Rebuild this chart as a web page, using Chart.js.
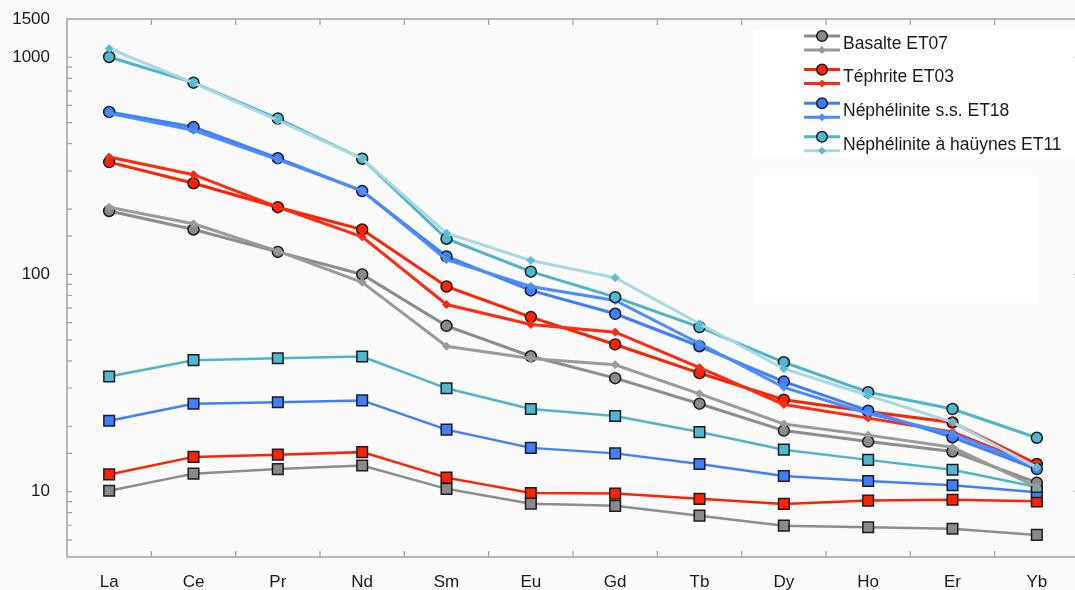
<!DOCTYPE html>
<html lang="fr">
<head>
<meta charset="utf-8">
<title>Spectres de terres rares</title>
<script src="https://cdn.jsdelivr.net/npm/chart.js@4.4.1/dist/chart.umd.min.js"></script>
<style>
    html, body {
        margin: 0;
        padding: 0;
        background: #fafafa;
        overflow: hidden;
    }

    #wrap {
        width: 1088px;
        height: 590px;
    }
</style>
</head>
<body>
<div id="wrap">
    <canvas id="reeChart" width="1088" height="590"></canvas>
</div>
<script>
const elements = ['La', 'Ce', 'Pr', 'Nd', 'Sm', 'Eu', 'Gd', 'Tb', 'Dy', 'Ho', 'Er', 'Yb'];
const yTickLabels = [10, 100, 1000, 1500];

// Basalte ET07
const basalteCircle = [196, 161, 127, 100, 58, 42, 33.3, 25.4, 19.1, 17.0, 15.3, 11.0];
const basalteDiamond = [204, 171, 128, 92, 46.7, 41, 38.4, 28.2, 20.5, 18.2, 16.0, 10.5];
const basalteSquare = [10.1, 12.1, 12.7, 13.2, 10.3, 8.8, 8.6, 7.75, 6.97, 6.85, 6.75, 6.32];

// Téphrite ET03
const tephriteCircle = [329, 263, 204, 161, 88, 63.6, 47.6, 35.1, 26.5, 23.4, 20.8, 13.4];
const tephriteDiamond = [347, 288, 204, 149, 72.7, 58.8, 54.2, 37.2, 25.2, 21.8, 18.8, 13.2];
const tephriteSquare = [12.0, 14.45, 14.8, 15.2, 11.6, 9.86, 9.79, 9.26, 8.78, 9.09, 9.18, 9.02];

// Néphélinite s.s. ET18
const nephCircle = [560, 477, 343, 242, 121, 84.4, 65.9, 46.7, 32.1, 23.6, 17.8, 12.7];
const nephDiamond = [552, 461, 338, 243, 117, 88, 75.9, 48.1, 30.2, 22.9, 18.5, 13.0];
const nephSquare = [21.2, 25.4, 25.8, 26.3, 19.3, 15.9, 15.0, 13.4, 11.8, 11.2, 10.7, 9.93];

// Néphélinite à haüynes ET11
const hauyneCircle = [1003, 764, 522, 341, 146, 103, 78.6, 57.2, 39.4, 28.7, 24.0, 17.7];
const hauyneDiamond = [1097, 763, 512, 341, 155, 116, 96.6, 59.3, 36.8, 27.7, 20.9, 12.9];
const hauyneSquare = [33.9, 40.3, 41.1, 41.9, 29.9, 24.0, 22.3, 18.8, 15.6, 14.0, 12.6, 10.5];

const legendNames = ['Basalte ET07', 'Téphrite ET03', 'Néphélinite s.s. ET18', 'Néphélinite à haüynes ET11'];

const palette = [
    { line: '#8c8c8c', fill: '#8a8a8a', light: '#9a9a9a', mark: '#999999' },
    { line: '#ff2200', fill: '#ff2200', light: '#ff2a10', mark: '#ff2a10' },
    { line: '#3f7fff', fill: '#3f7fff', light: '#4a8cff', mark: '#4a8cff' },
    { line: '#4db5cb', fill: '#4db8cf', light: '#a8d9e3', mark: '#5bbdd5' }
];

const AXIS_COLOR = '#a0a0a0';
const TEXT_COLOR = '#1a1a1a';
const MARKER_EDGE = '#1c1c1c';

function circleSet(label, data, color) {
    return {
        label: label,
        data: data,
        borderColor: color.line,
        borderWidth: 3,
        pointStyle: 'circle',
        pointRadius: 5.5,
        pointBackgroundColor: color.fill,
        pointBorderColor: MARKER_EDGE,
        pointBorderWidth: 1.5
    };
}

function diamondSet(label, data, color) {
    return {
        label: label,
        data: data,
        borderColor: color.light,
        borderWidth: 3,
        pointStyle: 'rectRot',
        pointRadius: 4,
        pointBackgroundColor: color.mark,
        pointBorderColor: color.mark,
        pointBorderWidth: 1
    };
}

function squareSet(label, data, color) {
    return {
        label: label,
        data: data,
        borderColor: color.line,
        borderWidth: 2.5,
        pointStyle: 'rect',
        pointRadius: 7.5,
        pointBackgroundColor: color.fill,
        pointBorderColor: MARKER_EDGE,
        pointBorderWidth: 1.5
    };
}

function buildDatasets() {
    const list = [
        squareSet(legendNames[0] + ' (carrés)', basalteSquare, palette[0]),
        squareSet(legendNames[1] + ' (carrés)', tephriteSquare, palette[1]),
        squareSet(legendNames[2] + ' (carrés)', nephSquare, palette[2]),
        squareSet(legendNames[3] + ' (carrés)', hauyneSquare, palette[3]),
        circleSet(legendNames[0], basalteCircle, palette[0]),
        diamondSet(legendNames[0] + ' (losanges)', basalteDiamond, palette[0]),
        circleSet(legendNames[1], tephriteCircle, palette[1]),
        diamondSet(legendNames[1] + ' (losanges)', tephriteDiamond, palette[1]),
        circleSet(legendNames[2], nephCircle, palette[2]),
        diamondSet(legendNames[2] + ' (losanges)', nephDiamond, palette[2]),
        circleSet(legendNames[3], hauyneCircle, palette[3]),
        diamondSet(legendNames[3] + ' (losanges)', hauyneDiamond, palette[3])
    ];

    // les derniers sont dessinés par-dessus
    list.forEach(function (ds, i) {
        ds.order = list.length - i;
        ds.tension = 0;
    });

    return list;
}

// cadre, petites graduations vers l'intérieur, cadres blancs
const framePlugin = {
    id: 'frame',
    beforeDatasetsDraw(chart) {
        const ctx = chart.ctx;
        const area = chart.chartArea;
        const x = chart.scales.x;
        const y = chart.scales.y;

        ctx.save();

        ctx.fillStyle = '#ffffff';
        ctx.fillRect(753, 29, 340, 128);
        ctx.fillRect(754, 175, 284, 128);

        ctx.strokeStyle = AXIS_COLOR;
        ctx.lineWidth = 1.5;
        ctx.strokeRect(area.left, area.top, area.right - area.left, area.bottom - area.top);

        ctx.lineWidth = 1.2;
        ctx.beginPath();

        y.ticks.forEach(function (tick) {
            const py = y.getPixelForValue(tick.value);

            if (py <= area.top + 1 || py >= area.bottom - 1) {
                return;
            }

            ctx.moveTo(area.left, py);
            ctx.lineTo(area.left + 5, py);

            if (yTickLabels.includes(Math.round(tick.value))) {
                ctx.moveTo(area.right, py);
                ctx.lineTo(area.right - 5, py);
            }
        });

        for (let i = 0; i < elements.length - 1; i++) {
            const px = (x.getPixelForValue(i) + x.getPixelForValue(i + 1)) / 2;
            ctx.moveTo(px, area.bottom);
            ctx.lineTo(px, area.bottom - 6);
            ctx.moveTo(px, area.top);
            ctx.lineTo(px, area.top + 6);
        }

        ctx.stroke();
        ctx.restore();
    }
};

function drawDiamond(ctx, cx, cy, r) {
    ctx.beginPath();
    ctx.moveTo(cx, cy - r);
    ctx.lineTo(cx + r, cy);
    ctx.lineTo(cx, cy + r);
    ctx.lineTo(cx - r, cy);
    ctx.closePath();
    ctx.fill();
}

// légende à double symbole (cercle + losange)
const legendPlugin = {
    id: 'doubleLegend',
    afterDraw(chart) {
        const ctx = chart.ctx;

        ctx.save();
        ctx.font = '17.5px "Liberation Sans", Arial, Helvetica, sans-serif';
        ctx.textBaseline = 'middle';
        ctx.textAlign = 'left';

        legendNames.forEach(function (name, i) {
            const color = palette[i];
            const top = 36 + i * 33.6;

            ctx.lineWidth = 3;
            ctx.strokeStyle = color.line;
            ctx.beginPath();
            ctx.moveTo(804, top);
            ctx.lineTo(840, top);
            ctx.stroke();

            ctx.strokeStyle = color.light;
            ctx.beginPath();
            ctx.moveTo(804, top + 14);
            ctx.lineTo(840, top + 14);
            ctx.stroke();

            ctx.fillStyle = color.fill;
            ctx.strokeStyle = MARKER_EDGE;
            ctx.lineWidth = 1.5;
            ctx.beginPath();
            ctx.arc(822, top, 5.3, 0, Math.PI * 2);
            ctx.fill();
            ctx.stroke();

            ctx.fillStyle = color.mark;
            drawDiamond(ctx, 822, top + 14, 4);

            ctx.fillStyle = TEXT_COLOR;
            ctx.fillText(name, 843, top + 8);
        });

        ctx.restore();
    }
};

function initReeChart() {
    const canvas = document.getElementById('reeChart');

    if (!canvas) {
        return;
    }

    Chart.defaults.font.family = '"Liberation Sans", Arial, Helvetica, sans-serif';

    new Chart(canvas.getContext('2d'), {
        type: 'line',
        data: {
            labels: elements,
            datasets: buildDatasets()
        },
        options: {
            responsive: false,
            animation: false,
            layout: {
                padding: { top: 19, right: 5, left: 0, bottom: 0 }
            },
            plugins: {
                legend: { display: false },
                tooltip: { enabled: false }
            },
            scales: {
                x: {
                    type: 'category',
                    offset: true,
                    grid: { display: false, drawTicks: false },
                    border: { display: false },
                    ticks: {
                        padding: 15,
                        color: TEXT_COLOR,
                        font: { size: 17 }
                    },
                    afterFit: function (scale) {
                        scale.height = 33;
                        scale.paddingLeft = 0;
                        scale.paddingRight = 0;
                    }
                },
                y: {
                    type: 'logarithmic',
                    min: 5,
                    max: 1500,
                    grid: { display: false, drawTicks: false },
                    border: { display: false },
                    ticks: {
                        autoSkip: false,
                        padding: 17,
                        color: TEXT_COLOR,
                        font: { size: 17 },
                        callback: function (value) {
                            const v = Math.round(value);
                            return yTickLabels.includes(v) ? String(v) : '';
                        }
                    },
                    afterFit: function (scale) {
                        scale.width = 67;
                        scale.paddingTop = 0;
                        scale.paddingBottom = 0;
                    }
                }
            }
        },
        plugins: [framePlugin, legendPlugin]
    });
}

initReeChart();
</script>
</body>
</html>
